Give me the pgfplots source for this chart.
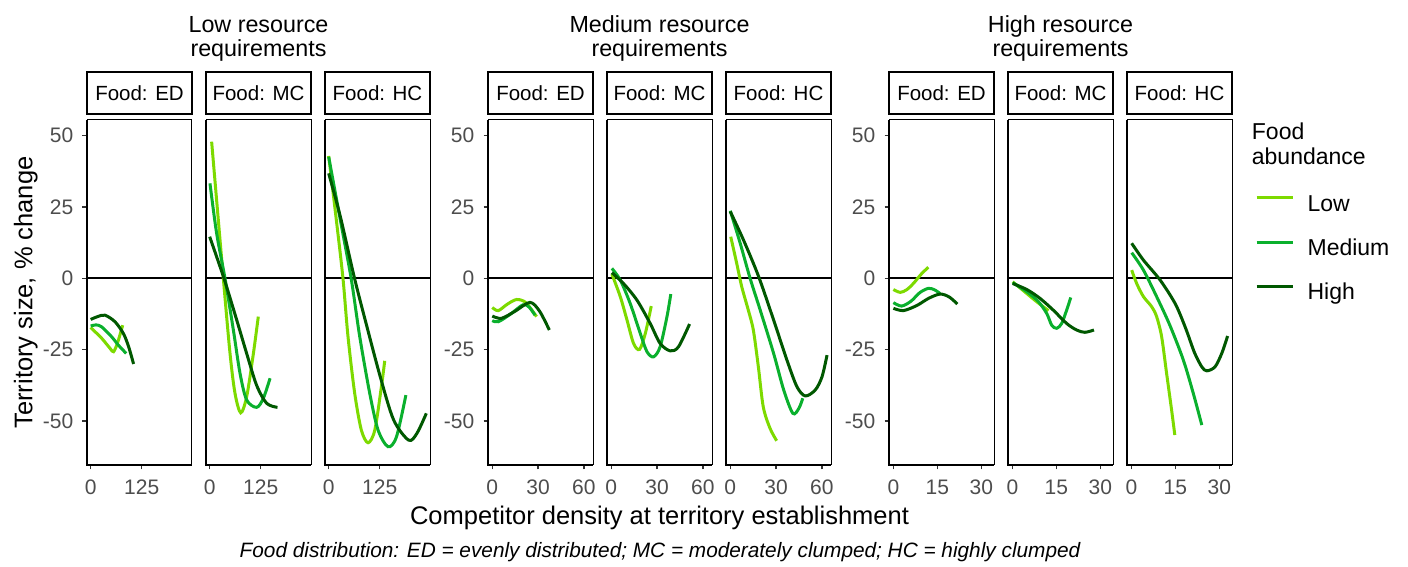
\documentclass[border=0pt]{standalone}
\usepackage{fontspec}
\setmainfont{Liberation Sans}
\usepackage{pgfplots}
\pgfplotsset{compat=1.18}
\definecolor{cLow}{RGB}{125,218,0}
\definecolor{cMed}{RGB}{10,176,45}
\definecolor{cHigh}{RGB}{0,88,0}
\definecolor{labgray}{RGB}{77,77,77}
\definecolor{tickgray}{RGB}{51,51,51}
\newcommand\tickfont{\fontsize{21}{21}\selectfont}
\newcommand\stripfont{\fontsize{20.5}{20.5}\selectfont}
\newcommand\titlefont{\fontsize{23.3}{24.4}\selectfont}
\newcommand\axtitlefont{\fontsize{25.5}{26}\selectfont}
\newcommand\capfont{\fontsize{20.8}{21}\selectfont\itshape}
\newcommand\legfont{\fontsize{23}{24}\selectfont}
\pgfplotsset{
  panel/.style={scale only axis, width=105pt, height=345pt,
    ymin=-65.4, ymax=55.5, clip=false,
    axis line style={line width=1pt, black},
    tick align=outside, tick pos=left, major tick length=4.5pt,
    tick style={line width=1.4pt, color=tickgray},
    ytick=\empty,
    xticklabel style={font=\tickfont, text=labgray, anchor=north, inner sep=0pt, text height=15pt, text depth=0pt, yshift=-9.5pt},
    yticklabel style={font=\tickfont, text=labgray, anchor=east, inner sep=0pt, xshift=-9pt},
    title style={at={(0.5,1)}, anchor=south, yshift=0pt, draw=black, line width=2pt,
      minimum width=105pt, minimum height=42pt, inner sep=0pt, outer sep=0pt,
      font=\stripfont, text height=15pt, text depth=0pt},
  },
  ylab/.style={ytick={-50,-25,0,25,50}, yticklabels={-50,-25,0,25,50}},
  g1/.style={xmin=-9, xmax=248, xtick={0,125}, xticklabels={0,125}},
  g2/.style={xmin=-2.8, xmax=66, xtick={0,30,60}, xticklabels={0,30,60}},
  g3/.style={xmin=-1.5, xmax=34.3, xtick={0,15,30}, xticklabels={0,15,30}},
  cl/.style={smooth, tension=0.5, line width=3pt, no markers},
}
\newcommand\panelextras{%
  \draw[black, line width=2pt] ({rel axis cs:0,0}|-{axis cs:0,0}) -- ({rel axis cs:1,0}|-{axis cs:0,0});
  \draw[black, line width=1.8pt] (rel axis cs:0,1) -- (rel axis cs:0,0) -- (rel axis cs:1,0);
}
\begin{document}
\begin{tikzpicture}
\path[use as bounding box] (0pt,0pt) rectangle (1408pt,567pt);

% ---------- Group 1: Low resource requirements ----------
\begin{axis}[panel, g1, ylab, at={(87pt,102pt)}, anchor=south west, title={Food: ED}]
\panelextras
\addplot[cl, cLow] coordinates {(0,-17.2) (6.4,-18.1) (27,-21) (47.3,-24.5) (56,-25.7) (66,-22.5) (78.4,-16.4)};
\addplot[cl, cMed] coordinates {(0,-16.7) (13,-16.3) (26.9,-17) (51.5,-20.5) (67.8,-23.4) (87,-26.3)};
\addplot[cl, cHigh] coordinates {(0,-14.4) (17,-13.4) (35,-12.9) (59.5,-15.2) (80,-19.3) (93,-24) (105,-30)};
\end{axis}
\begin{axis}[panel, g1, at={(206pt,102pt)}, anchor=south west, title={Food: MC}]
\panelextras
\addplot[cl, cLow] coordinates {(4.8,47.9) (33.4,0) (49.8,-26.3) (62,-40.3) (75.9,-47.1) (90.5,-41.5) (107,-26.3) (119,-13.4)};
\addplot[cl, cMed] coordinates {(0.7,33.3) (17,15.8) (37.5,0) (58,-18.1) (74.3,-33.3) (90.5,-42.6) (115,-45.2) (131.4,-42) (147.8,-35)};
\addplot[cl, cHigh] coordinates {(0,14.6) (35,0) (66,-14.5) (90.5,-26.3) (115,-37.5) (139.6,-43.8) (166,-45.2)};
\end{axis}
\begin{axis}[panel, g1, at={(325pt,102pt)}, anchor=south west, title={Food: HC}]
\panelextras
\addplot[cl, cLow] coordinates {(0,42.9) (18.8,20.4) (35,0) (47.3,-20.4) (63.7,-40.3) (80,-53.2) (96.4,-57.6) (112.8,-53.2) (129,-38) (137.2,-28.9)};
\addplot[cl, cMed] coordinates {(0,42.6) (28.6,20.4) (55,0) (76,-20.4) (100.5,-40.3) (121,-53.2) (145.5,-59) (166,-55.5) (189,-40.9)};
\addplot[cl, cHigh] coordinates {(0,36.8) (28.6,21.6) (63.3,0) (93.6,-16.9) (126.3,-34.5) (159,-49.6) (195.8,-56.7) (216,-54.3) (239,-47.3)};
\end{axis}

% ---------- Group 2: Medium resource requirements ----------
\begin{axis}[panel, g2, ylab, at={(488pt,102pt)}, anchor=south west, title={Food: ED}]
\panelextras
\addplot[cl, cLow] coordinates {(0,-10.2) (3.9,-11.3) (10,-9) (16,-7.4) (22,-8.5) (29,-13.4)};
\addplot[cl, cMed] coordinates {(0,-14.8) (4,-15.2) (12,-12.5) (20,-9.3) (24,-10) (28,-12.9)};
\addplot[cl, cHigh] coordinates {(0,-13.2) (6,-14) (15,-11.5) (24.7,-8.4) (31,-11.5) (37.4,-18.1)};
\end{axis}
\begin{axis}[panel, g2, at={(607pt,102pt)}, anchor=south west, title={Food: MC}]
\panelextras
\addplot[cl, cLow] coordinates {(0.4,1.5) (5.9,-6.4) (10.3,-14.6) (14.6,-22.8) (18.5,-24.9) (22.3,-19.3) (26.2,-9.7)};
\addplot[cl, cMed] coordinates {(0.4,3.5) (5.9,-0.6) (12.4,-8.8) (19,-19.3) (23.4,-25.7) (27.7,-27.5) (32,-24) (36.5,-13.4) (39,-5.5)};
\addplot[cl, cHigh] coordinates {(0.4,2) (8,-1.8) (16.8,-7.6) (25.5,-15.8) (32,-22.8) (38.6,-25.4) (44,-24) (51.3,-16)};
\end{axis}
\begin{axis}[panel, g2, at={(726pt,102pt)}, anchor=south west, title={Food: HC}]
\panelextras
\addplot[cl, cLow] coordinates {(0.3,14.6) (4.2,5.3) (7.5,-2.9) (11.8,-11.1) (15.1,-18.1) (18.4,-31) (21.6,-45) (26,-52.5) (30.4,-56.9)};
\addplot[cl, cMed] coordinates {(0,23.7) (6.5,12.3) (13,0) (19.6,-11.1) (28.4,-26.3) (35,-39.1) (41,-47.3) (45,-45.5) (47.5,-42)};
\addplot[cl, cHigh] coordinates {(0,23.4) (8.7,13.4) (18.6,0.6) (28.4,-14.6) (37.1,-28.6) (43.7,-38) (49.2,-41.2) (55.7,-39.1) (60.1,-34.5) (63.4,-26.9)};
\end{axis}

% ---------- Group 3: High resource requirements ----------
\begin{axis}[panel, g3, ylab, at={(889pt,102pt)}, anchor=south west, title={Food: ED}]
\panelextras
\addplot[cl, cLow] coordinates {(0,-3.9) (2.3,-4.9) (4.5,-4) (6.8,-1.8) (9.5,1.5) (11.9,3.9)};
\addplot[cl, cMed] coordinates {(0,-8.5) (2.8,-9.7) (6,-8) (9,-5) (11.9,-3.5) (14,-4) (15.9,-5.3)};
\addplot[cl, cHigh] coordinates {(0,-10.5) (3.4,-11.3) (8,-9.5) (12,-7) (15.9,-5.5) (19,-6.5) (21.8,-9)};
\end{axis}
\begin{axis}[panel, g3, at={(1008pt,102pt)}, anchor=south west, title={Food: MC}]
\panelextras
\addplot[cl, cLow] coordinates {(0.1,-1.2) (4.9,-5.3) (8.3,-8.2) (12.3,-11.3)};
\addplot[cl, cMed] coordinates {(0.1,-1.5) (4.9,-4.7) (8.9,-8.2) (11.7,-12.3) (13.4,-16.4) (15.1,-17.5) (16.8,-15.8) (18.5,-11.1) (19.9,-6.7)};
\addplot[cl, cHigh] coordinates {(0.1,-1.8) (4.9,-3.9) (9.4,-7) (13.9,-11.1) (18.5,-15.8) (21.9,-18.1) (24.7,-18.9) (27.8,-18.1)};
\end{axis}
\begin{axis}[panel, g3, at={(1127pt,102pt)}, anchor=south west, title={Food: HC},
  legend style={at={(1.219,0.785)}, anchor=north west, draw=none, fill=none, inner sep=0pt,
    row sep=21.3pt, column sep=13.4pt, font=\legfont,
    nodes={inner sep=0pt, text height=17pt, text depth=6pt}},
  legend cell align=left,
  legend image code/.code={\draw[#1, line width=3pt] (0pt,8pt) -- (36pt,8pt);}]
\panelextras
\addplot[cl, cLow] coordinates {(0.1,2.9) (1.8,-1.8) (4.1,-6.4) (6.9,-9.9) (8.6,-13.4) (10.3,-20.4) (12,-33.3) (13.7,-46.1) (14.8,-54.9)};
\addlegendentry{Low}
\addplot[cl, cMed] coordinates {(0.1,9) (4.1,2.9) (8.6,-6.4) (13.1,-16.4) (17.7,-28.6) (21.1,-40.3) (24,-51.4)};
\addlegendentry{Medium}
\addplot[cl, cHigh] coordinates {(0.1,12.3) (4.1,6.4) (9.8,-0.6) (15,-9) (18.5,-17.5) (21.5,-26) (24,-31) (25.7,-32.4) (28.5,-31) (30.8,-26.3) (32.8,-20.2)};
\addlegendentry{High}
\end{axis}

% ---------- Texts ----------
\node[font=\titlefont, anchor=base] at (258.5pt,534.7pt) {Low resource};
\node[font=\titlefont, anchor=base] at (258.5pt,510.3pt) {requirements};
\node[font=\titlefont, anchor=base] at (659.5pt,534.7pt) {Medium resource};
\node[font=\titlefont, anchor=base] at (659.5pt,510.3pt) {requirements};
\node[font=\titlefont, anchor=base] at (1060.5pt,534.7pt) {High resource};
\node[font=\titlefont, anchor=base] at (1060.5pt,510.3pt) {requirements};

\node[font=\axtitlefont, anchor=base, rotate=90, inner sep=0pt] at (32.3pt,274.5pt) {Territory size, \% change};
\node[font=\axtitlefont, anchor=base, inner sep=0pt] at (659.5pt,42pt) {Competitor density at territory establishment};
\node[font=\capfont, anchor=base, inner sep=0pt] at (660pt,9pt) {Food distribution: ED = evenly distributed; MC = moderately clumped; HC = highly clumped};

\node[font=\legfont, anchor=base west, inner sep=0pt] at (1251.7pt,427pt) {Food};
\node[font=\legfont, anchor=base west, inner sep=0pt] at (1251.7pt,402.7pt) {abundance};
\end{tikzpicture}
\end{document}
